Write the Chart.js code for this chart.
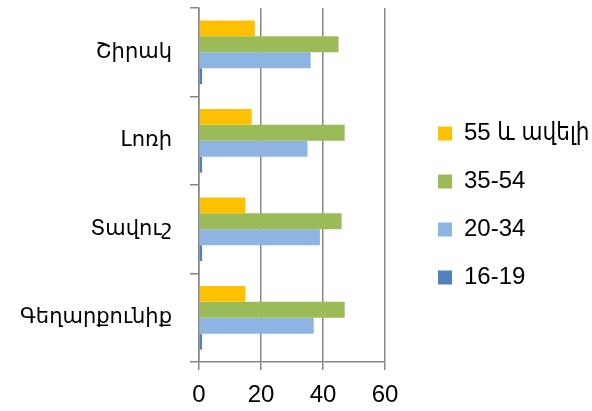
<!DOCTYPE html>
<html>
<head>
<meta charset="utf-8">
<script src="https://cdn.jsdelivr.net/npm/chart.js@4/dist/chart.umd.min.js"></script>
<style>
  html, body { margin: 0; padding: 0; background: #fff; }
  #wrap { width: 592px; height: 411px; }
</style>
</head>
<body>
<div id="wrap"><canvas id="barChart" width="592" height="411"></canvas></div>
<script>
// categories listed top to bottom, as Chart.js draws them
const regions = ['Շիրակ', 'Լոռի', 'Տավուշ', 'Գեղարքունիք'];

const age55plus = [18, 17, 15, 15];
const age35to54 = [45, 47, 46, 47];
const age20to34 = [36, 35, 39, 37];
const age16to19 = [1, 1, 1, 1];

const xTicks = [0, 20, 40, 60];

const ctx = document.getElementById('barChart').getContext('2d');
const tickFont = { family: "'Liberation Sans', 'DejaVu Sans Condensed', 'DejaVu Sans', sans-serif", size: 24 };
const catFont = { family: "'DejaVu Sans', sans-serif", size: 21 };

const PLOT_LEFT = 199;    // y axis position
const PLOT_RIGHT = 385;   // where 60 sits
const X_AXIS_HEIGHT = 49; // room under the plot for the x labels
const LEGEND_LEFT = 414;  // legend box (items start at left + padding)
const LEGEND_SHIFT = -4;  // fine vertical placement of the legend

// keep the plot narrow and put the legend where it belongs
const legendPlace = {
  id: 'legendPlace',
  beforeInit(chart) {
    const origFit = chart.legend.fit;
    chart.legend.fit = function () {
      origFit.call(this);
      this.width = chart.width - PLOT_RIGHT;
    };
  },
  afterLayout(chart) {
    const lg = chart.legend;
    lg.left = LEGEND_LEFT;
    lg.right = chart.width;
    lg.top += LEGEND_SHIFT;
    lg.bottom += LEGEND_SHIFT;
  },
};

new Chart(ctx, {
  type: 'bar',
  data: {
    labels: regions,
    datasets: [
      { label: '55 և ավելի', data: age55plus, backgroundColor: '#FFC000' },
      { label: '35-54', data: age35to54, backgroundColor: '#9BBB59' },
      { label: '20-34', data: age20to34, backgroundColor: '#8EB4E3' },
      { label: '16-19', data: age16to19, backgroundColor: '#4F81BD' },
    ],
  },
  options: {
    responsive: false,
    animation: false,
    indexAxis: 'y',
    barPercentage: 1,
    categoryPercentage: 0.72,
    layout: { padding: { top: 8, bottom: 0, left: 0, right: 0 } },
    plugins: {
      tooltip: { enabled: false },
      legend: {
        position: 'right',
        labels: {
          font: tickFont,
          color: '#000',
          boxWidth: 14,
          boxHeight: 14,
          padding: 24,
        },
      },
    },
    scales: {
      x: {
        min: xTicks[0],
        max: xTicks[xTicks.length - 1],
        afterBuildTicks: axis => { axis.ticks = xTicks.map(v => ({ value: v })); },
        afterFit: s => { s.height = X_AXIS_HEIGHT; s.paddingLeft = 0; },
        ticks: { font: tickFont, color: '#000', padding: 11 },
        grid: { color: '#868686', lineWidth: 1.5, tickLength: 8 },
        border: { color: '#868686', width: 1.5 },
      },
      y: {
        afterFit: s => {
          s.width = PLOT_LEFT;
          s.paddingTop = 0;
          s.paddingBottom = 0;
        },
        ticks: { font: catFont, color: '#000', padding: 18 },
        grid: { offset: true, drawOnChartArea: false, color: '#868686', lineWidth: 1.5, tickLength: 9 },
        border: { color: '#868686', width: 1.5 },
      },
    },
  },
  plugins: [legendPlace],
});
</script>
</body>
</html>
